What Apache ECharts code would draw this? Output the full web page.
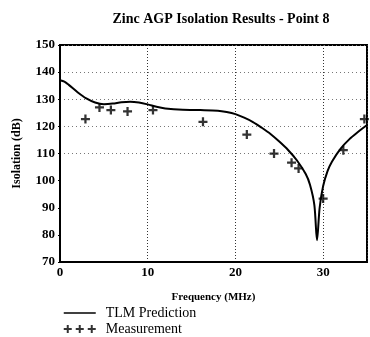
<!DOCTYPE html>
<html><head><meta charset="utf-8">
<script src="https://cdn.jsdelivr.net/npm/echarts@6/dist/echarts.min.js"></script>
<style>html,body{margin:0;padding:0;background:#fff}#c{width:370px;height:337px}</style>
</head><body><div id="c"></div>
<script>
const titleText = 'Zinc AGP Isolation Results - Point 8';
const xTicks = [0, 10, 20, 30];
const yTicks = [70, 80, 90, 100, 110, 120, 130, 140, 150];
const tlmFreq = [0,0.5,1,2,3,4,5,6,7,8,9,10,11,12,14,16,18,19,20,21,22,23,24,25,26,27,28,28.5,29,29.3,29.6,30,30.5,31,32,33,34,35];
const tlmIso  = [137,136.5,135.3,132.6,130.3,128.8,128.2,128.4,128.9,129.1,128.8,128.1,127.2,126.6,126.1,126.0,125.8,125.3,124.5,123.2,121.6,119.5,117.2,114.4,111.3,107.5,102.5,98.5,91,78,90,98,103.5,107,111.8,115.3,118,120.5];
const measFreq = [2.9,4.5,5.8,7.7,10.6,16.3,21.3,24.4,26.4,27.2,30.0,32.3,34.7];
const measIso  = [122.7,127,126,125.5,126,121.7,117,110,106.6,104.5,93.4,111.2,122.7];

const SERIF = '"Liberation Serif","DejaVu Serif",serif';
const plus = 'path://M3,0h2v3h3v2h-3v3h-2v-3h-3v-2h3z';
const plus3 = 'path://M3,0h2v3h3v2h-3v3h-2v-3h-3v-2h3z M15,0h2v3h3v2h-3v3h-2v-3h-3v-2h3z M27,0h2v3h3v2h-3v3h-2v-3h-3v-2h3z';

const chart = echarts.init(document.getElementById('c'), null, {renderer:'canvas'});
chart.setOption({
  backgroundColor:'#fff',
  animation:false,
  title:{text:titleText,left:216,textAlign:'center',top:7,
    textStyle:{fontFamily:SERIF,fontSize:14,fontWeight:'bold',color:'#000'}},
  grid:{left:60,top:45,width:311,height:217,show:true,borderColor:'#000',borderWidth:2,backgroundColor:'transparent'},
  legend:{orient:'vertical',left:58,top:301,height:40,itemGap:2,itemWidth:32,itemHeight:8,
    textStyle:{fontFamily:SERIF,fontSize:14,color:'#000',padding:[0,0,0,5]},
    data:[{name:'TLM Prediction',itemStyle:{opacity:0},lineStyle:{color:'#000',width:1.5}},
          {name:'Measurement',icon:plus3}]},
  xAxis:{type:'value',min:0,max:35,interval:10,
    name:'Frequency (MHz)',nameLocation:'middle',nameGap:30,
    nameTextStyle:{fontFamily:SERIF,fontSize:11,fontWeight:'bold',color:'#000'},
    axisLine:{show:true,lineStyle:{color:'#000',width:2}},
    axisTick:{show:false},
    axisLabel:{fontFamily:SERIF,fontSize:13,fontWeight:'bold',color:'#000',margin:4,
      formatter:v=>xTicks.includes(v)?String(v):''},
    splitLine:{show:true,lineStyle:{color:'#333',type:[1,2],width:1}}},
  yAxis:{type:'value',min:70,max:150,interval:10,
    name:'Isolation (dB)',nameLocation:'middle',nameGap:37,nameRotate:90,
    nameTextStyle:{fontFamily:SERIF,fontSize:12,fontWeight:'bold',color:'#000'},
    axisLine:{show:true,lineStyle:{color:'#000',width:2}},
    axisTick:{show:true,length:2,lineStyle:{color:'#000'}},
    axisLabel:{fontFamily:SERIF,fontSize:13,fontWeight:'bold',color:'#000',margin:5,
      formatter:v=>yTicks.includes(v)?String(v):''},
    splitLine:{show:true,lineStyle:{color:['rgba(0,0,0,0)','rgba(0,0,0,0)','rgba(0,0,0,0)','rgba(0,0,0,0)','#777','#777','#777','#777','#777'],type:[1,3],width:1}}},
  series:[
    {name:'TLM Prediction',type:'line',symbol:'none',smooth:0.3,
      lineStyle:{color:'#000',width:2},itemStyle:{color:'#000'},
      data:tlmFreq.map((f,i)=>[f,tlmIso[i]]),z:3},
    {name:'Measurement',type:'scatter',symbol:plus,symbolSize:9,
      itemStyle:{color:'#000'},
      data:measFreq.map((f,i)=>[f,measIso[i]]),z:4}
  ]
});
</script></body></html>
